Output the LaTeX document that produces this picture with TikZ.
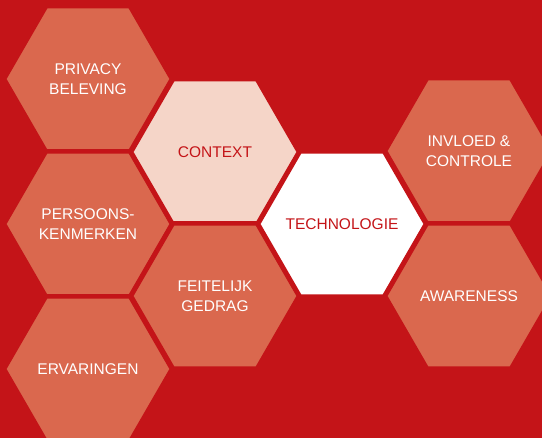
\documentclass[tikz,border=0pt]{standalone}
\usepackage{fontspec}
\setmainfont{Liberation Sans}
\usetikzlibrary{shapes.geometric}
\definecolor{bgred}{RGB}{196,20,24}
\definecolor{salmon}{RGB}{218,104,78}
\definecolor{blush}{RGB}{245,213,200}

\begin{document}
\begin{tikzpicture}[x=1pt,y=-1pt,hexa/.style={regular polygon,regular polygon sides=6,minimum size=168pt,inner sep=0pt,draw=bgred,line width=4.5pt},hextext/.style={align=center,inner sep=0pt,font=\fontsize{15.5}{20}\selectfont},warm/.style={hexa,fill=salmon,label={[hextext,text=white]center:#1}},pale/.style={hexa,fill=blush,label={[hextext,text=bgred]center:#1}},whitehex/.style={hexa,fill=white,label={[hextext,text=bgred]center:#1}}]
    \useasboundingbox (0,0) rectangle (542,438);
    \fill[bgred] (0,0) rectangle (542,438);
    \clip (0,0) rectangle (542,438);
    % left column
    \node[warm={PRIVACY\\BELEVING}] (privacy) at (88,79) {};
    \node[warm={PERSOONS-\\KENMERKEN}] (persoons) at (88,224) {};
    \node[warm=ERVARINGEN] (ervaringen) at (88,369) {};
    % second column
    \node[pale=CONTEXT] (context) at (215,152) {};
    \node[warm={FEITELIJK\\GEDRAG}] (gedrag) at (215,296) {};
    % centre
    \node[whitehex=TECHNOLOGIE] (technologie) at (342,224) {};
    % right column
    \node[warm={INVLOED \&\\CONTROLE}] (invloed) at (469,151) {};
    \node[warm=AWARENESS] (awareness) at (469,296) {};
\end{tikzpicture}
\end{document}
